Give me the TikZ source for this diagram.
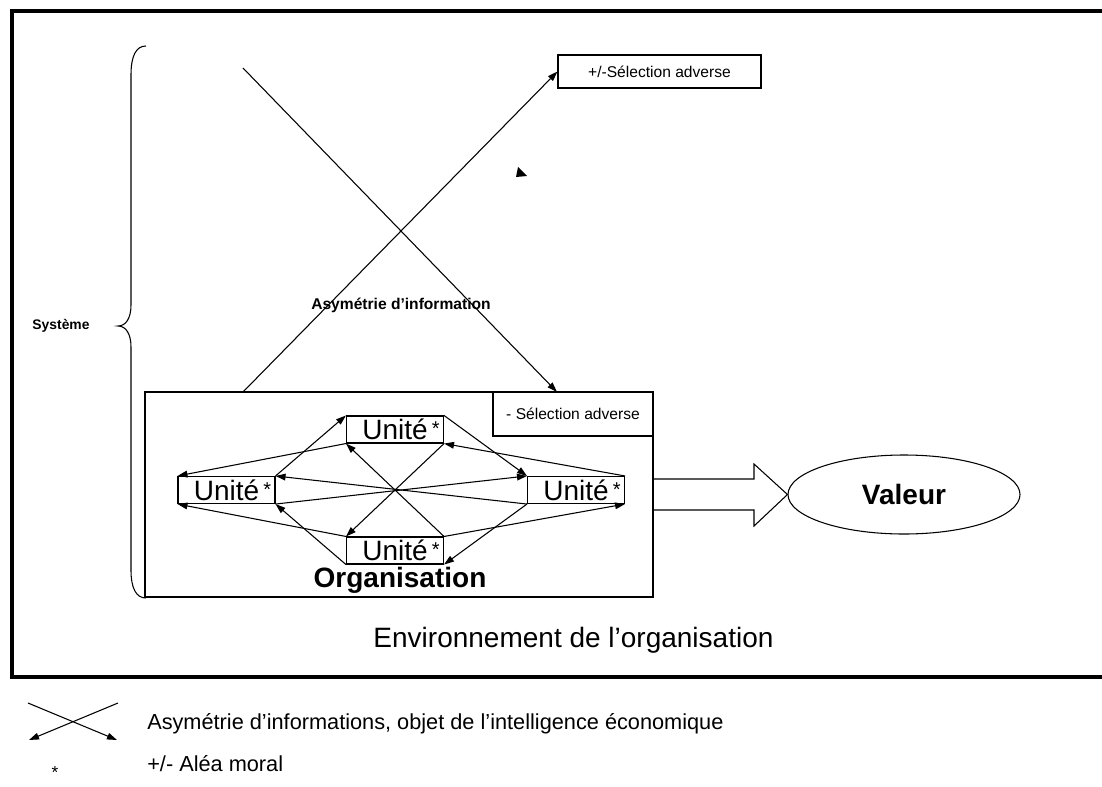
\documentclass[tikz,border=0pt]{standalone}
\usepackage{fontspec}
\setmainfont{Liberation Sans}
\usetikzlibrary{arrows.meta,shapes.geometric}
\newcommand{\ustar}{{\fontsize{15}{16}\selectfont\raisebox{3pt}{*}}}
\begin{document}
\begin{tikzpicture}[x=0.75pt,y=-0.75pt,
  unitbox/.style={draw, line width=0.8pt, inner sep=0pt, minimum width=72.75pt, minimum height=20.25pt, font=\fontsize{21}{24}\selectfont},
  smallbox/.style={draw, line width=0.8pt, inner sep=0pt, font=\fontsize{11.7}{14}\selectfont},
  arr/.style={line width=0.8pt, -{Triangle[length=7.5pt,width=5pt]}},
  bigtext/.style={inner sep=0pt, font=\fontsize{21}{24}\selectfont},
  legtext/.style={inner sep=0pt, anchor=base west, font=\fontsize{16.3}{19}\selectfont},
  thin/.style={line width=0.8pt}
]
\useasboundingbox (0,0) rectangle (1102,786);
\clip (0,0) rectangle (1102,786);
% outer frame
\draw[line width=2.4pt] (12,11) rectangle (1110,677);
% brace
\draw[thin] (146,46) .. controls (136,46) and (131,56) .. (131,75) -- (131,305)
  .. controls (131,318) and (126,326) .. (118,326)
  .. controls (126,326) and (131,334) .. (131,347) -- (131,570)
  .. controls (131,588) and (136,598) .. (146,598);
\node[inner sep=0pt, font=\bfseries\fontsize{10.4}{12}\selectfont] (sys) at (61,326) {Système};
% organisation box
\node[draw, thin, inner sep=0pt, minimum width=381pt, minimum height=153.75pt] (org) at (399,494.5) {};
\node[smallbox, minimum width=120pt, minimum height=33pt] (sel2) at (573,414) {- Sélection adverse};
\node[smallbox, minimum width=152.25pt, minimum height=24.75pt] (sel1) at (659.5,71.5) {+/-Sélection adverse};
% crossing arrows
\coordinate (aStart) at (243,68);
\coordinate (aEnd) at (557,392);
\coordinate (bStart) at (243,392);
\draw[arr] (aStart) -- (aEnd);
\draw[arr] (bStart) -- (sel1.west);
\node[inner sep=0pt, font=\bfseries\fontsize{11.7}{14}\selectfont] (asym) at (401,305) {Asymétrie d’information};
% stray arrow tip
\fill (518,167) -- (527,176) -- (516,177) -- cycle;
% units
\node[unitbox] (T) at (395,429.5) {\hspace*{9pt}Unité\hspace{3pt}\ustar};
\node[unitbox] (L) at (226.5,490) {\hspace*{9pt}Unité\hspace{3pt}\ustar};
\node[unitbox] (R) at (576,490) {\hspace*{9pt}Unité\hspace{3pt}\ustar};
\node[unitbox] (B) at (395,550.5) {\hspace*{9pt}Unité\hspace{3pt}\ustar};
\draw[arr] (L.north east) -- (T.north west);
\draw[arr] (T.south west) -- (L.north west);
\draw[arr] (T.north east) -- (R.north west);
\draw[arr] (R.north east) -- (T.south east);
\draw[arr] (B.north east) -- (T.south west);
\draw[arr] (T.south east) -- (B.north west);
\draw[arr] (R.south west) -- (L.north east);
\draw[arr] (L.south east) -- (R.north west);
\draw[arr] (B.north west) -- (L.south west);
\draw[arr] (B.south west) -- (L.south east);
\draw[arr] (R.south west) -- (B.south east);
\draw[arr] (B.north east) -- (R.south east);
\node[bigtext, anchor=base, font=\bfseries\fontsize{21}{24}\selectfont] (orgl) at (400,587) {Organisation};
% valeur
\node[draw, thin, ellipse, inner sep=0pt, minimum width=174pt, minimum height=59.25pt, font=\bfseries\fontsize{21}{24}\selectfont] (val) at (904,494.5) {Valeur};
\draw[thin] (653,479) -- (754,479) -- (754,464) -- (val.west) -- (754,526) -- (754,510) -- (653,510);
\node[bigtext, anchor=base] (env) at (573.5,647) {Environnement de l’organisation};
% legend
\coordinate (l1a) at (28,703);
\coordinate (l1b) at (117,740);
\coordinate (l2a) at (118,703);
\coordinate (l2b) at (29,740);
\draw[arr] (l1a) -- (l1b);
\draw[arr] (l2a) -- (l2b);
\node[legtext] (leg1) at (147,729) {Asymétrie d’informations, objet de l’intelligence économique};
\node[inner sep=0pt, anchor=base, font=\fontsize{13}{15}\selectfont] (star) at (55,778) {*};
\node[legtext] (leg2) at (147,771) {+/- Aléa moral};
\end{tikzpicture}
\end{document}
